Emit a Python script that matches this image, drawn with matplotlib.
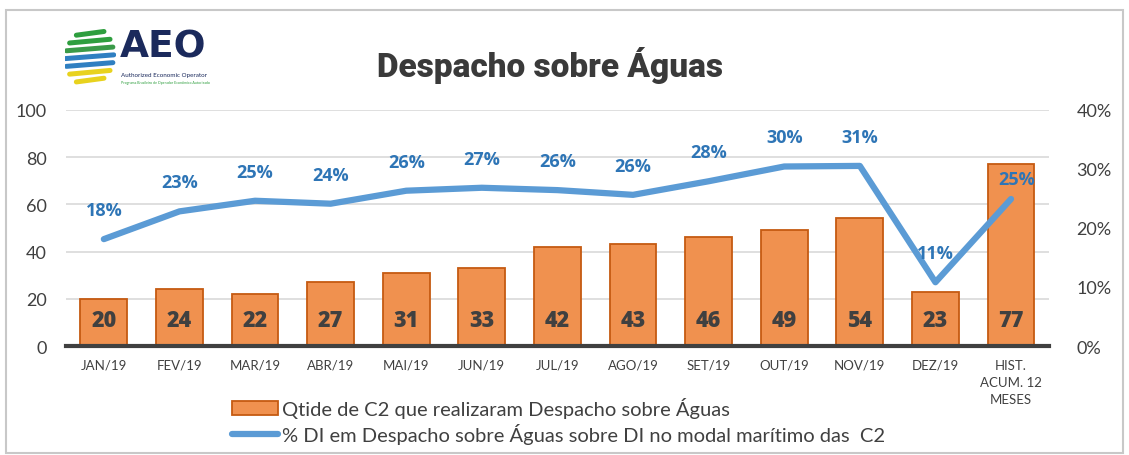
import matplotlib
matplotlib.use("Agg")
import matplotlib.pyplot as plt
from matplotlib.patches import Rectangle, Patch
from matplotlib.lines import Line2D
import numpy as np

categories = ["JAN/19", "FEV/19", "MAR/19", "ABR/19", "MAI/19", "JUN/19", "JUL/19",
              "AGO/19", "SET/19", "OUT/19", "NOV/19", "DEZ/19", "HIST.\nACUM. 12\nMESES"]
qtde = [20, 24, 22, 27, 31, 33, 42, 43, 46, 49, 54, 23, 77]
pct = [18.1, 22.8, 24.6, 24.1, 26.3, 26.8, 26.4, 25.6, 27.9, 30.4, 30.5, 10.8, 24.9]
pct_labels = ["18%", "23%", "25%", "24%", "26%", "27%", "26%", "26%", "28%", "30%", "31%", "11%", "25%"]
left_ticks = [0, 20, 40, 60, 80, 100]
right_ticks = [0, 10, 20, 30, 40]
title = "Despacho sobre Águas"
legend_bar = "Qtide de C2 que realizaram Despacho sobre Águas"
legend_line = "% DI em Despacho sobre Águas sobre DI no modal marítimo das  C2"

plt.rcParams['font.family'] = ['Lato', 'DejaVu Sans']

fig = plt.figure(figsize=(11.29, 4.56), dpi=100)
fig.patch.set_facecolor("white")
fig.add_artist(Rectangle((0.005, 0.005), 0.99, 0.97, transform=fig.transFigure,
                         fill=False, edgecolor="#c8c8c8", linewidth=1.5))

ax = fig.add_axes([0.0585, 0.239, 0.8705, 0.518])
x = np.arange(len(categories))
ax.bar(x, qtde, width=0.62, color="#F0914F", edgecolor="#C55A11", linewidth=1.3, zorder=2)
ax.set_xlim(-0.5, len(categories) - 0.5)
ax.set_ylim(0, 100)
ax.set_yticks(left_ticks)
ax.set_yticklabels([str(t) for t in left_ticks], fontsize=13, color="#404040")
ax.set_xticks(x)
ax.set_xticklabels(categories, fontsize=9.5, color="#404040", linespacing=1.5, va="top")
ax.tick_params(axis="both", length=0)
ax.tick_params(axis="x", pad=9)
ax.tick_params(axis="y", pad=14)
ax.grid(axis="y", color="#d9d9d9", linewidth=1.2, zorder=0)
ax.set_axisbelow(True)
for s in ["top", "right", "left"]:
    ax.spines[s].set_visible(False)
ax.spines["bottom"].set_color("#404040")
ax.spines["bottom"].set_linewidth(3)
ax.spines["bottom"].set_zorder(5)

for xi, v in zip(x, qtde):
    ax.text(xi, 11, str(v), ha="center", va="center", fontsize=15.5, fontweight="heavy",
            color="#404040", zorder=4, family=["Open Sans", "DejaVu Sans"])

ax2 = ax.twinx()
ax2.set_ylim(0, 40)
ax2.set_yticks(right_ticks)
ax2.set_yticklabels([f"{t}%" for t in right_ticks], fontsize=13, color="#404040")
ax2.tick_params(axis="y", length=0, pad=20)
for s in ["top", "right", "left", "bottom"]:
    ax2.spines[s].set_visible(False)
ax2.plot(x, pct, color="#5B9BD5", linewidth=4.5, solid_capstyle="round", zorder=3)
for i, (xi, v, lab) in enumerate(zip(x, pct, pct_labels)):
    dy = 20 if i == len(pct) - 1 else 29
    dx = 6 if i == len(pct) - 1 else 0
    ax2.annotate(lab, (xi, v), xytext=(dx, dy), textcoords="offset pixels",
                 ha="center", va="center", fontsize=13, fontweight="bold", color="#2E75B6",
                 family=["Open Sans", "DejaVu Sans"])

fig.text(0.487, 0.857, title, ha="center", va="center", fontsize=24, fontweight="black",
         color="#3a3a3a", family=["Roboto", "DejaVu Sans"])

# logo (simplified)
lax = fig.add_axes([0.058, 0.81, 0.045, 0.125])
lax.set_xlim(-1, 1); lax.set_ylim(-1, 1); lax.axis("off")
stripe_cols = ["#2e9e3e", "#2e9e3e", "#3a9a48", "#2f7fc1", "#2f7fc1", "#e8d21e", "#e8d21e"]
ys = np.linspace(0.82, -0.82, len(stripe_cols))
for yy, c in zip(ys, stripe_cols):
    w = np.sqrt(max(1 - yy**2, 0.08))
    lax.plot([-w, w * 0.9], [yy - 0.05, yy + 0.08], color=c, linewidth=3.6, solid_capstyle="round")
fig.text(0.106, 0.895, "AEO", fontsize=27, fontweight="bold", color="#1b2a5c",
         ha="left", va="center", family="DejaVu Sans")
fig.text(0.107, 0.835, "Authorized Economic Operator", fontsize=4.5, color="#1b2a5c",
         ha="left", va="center")
fig.text(0.107, 0.818, "Programa Brasileiro de Operador Econômico Autorizado", fontsize=2.6,
         color="#2e9e3e", ha="left", va="center")

handles = [Patch(facecolor="#F0914F", edgecolor="#C55A11", linewidth=1.3),
           Line2D([0], [0], color="#5B9BD5", linewidth=4.5, solid_capstyle="round")]
fig.legend(handles, [legend_bar, legend_line], loc="center", bbox_to_anchor=(0.495, 0.075),
           frameon=False, fontsize=14.5, labelcolor="#404040", handlelength=2.3,
           handletextpad=0.2, labelspacing=0.25, borderaxespad=0)

fig.savefig("out.png", dpi=100, facecolor="white")
